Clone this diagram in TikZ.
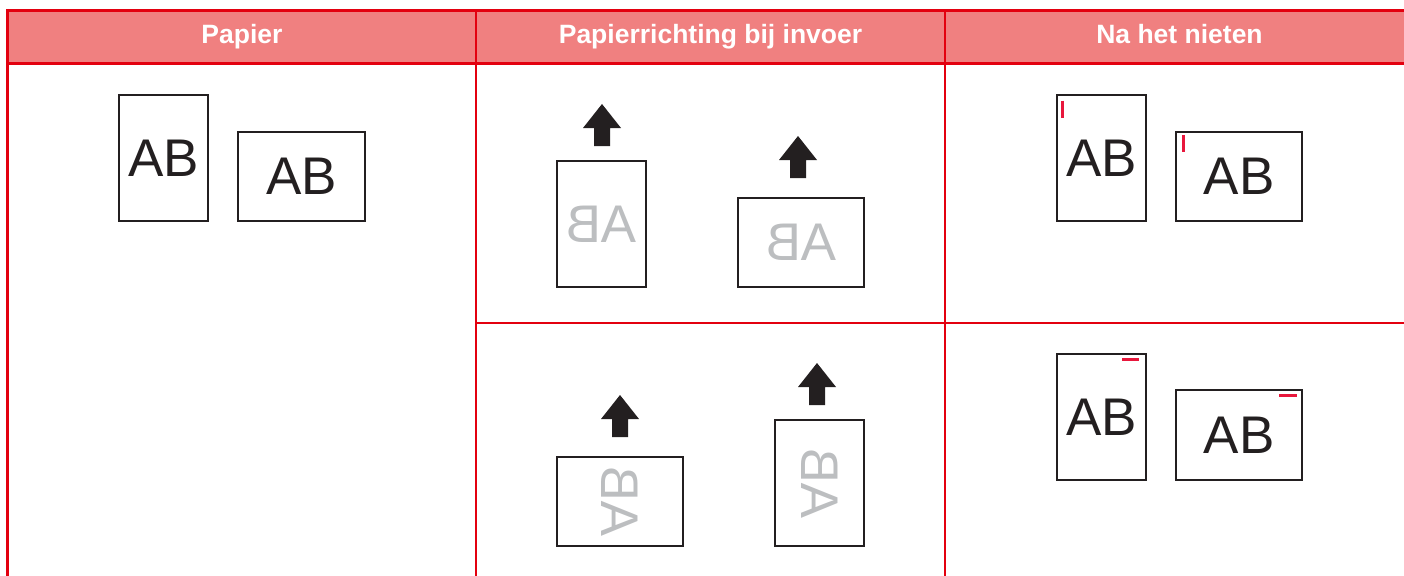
\documentclass[tikz,border=0pt]{standalone}
\usepackage{fontspec}
\setmainfont{Liberation Sans}
\usepackage{graphicx}
\definecolor{hdrfill}{HTML}{F08080}
\definecolor{tblred}{HTML}{E3000F}
\definecolor{ink}{HTML}{231F20}
\definecolor{ghost}{HTML}{BCBEC0}
\definecolor{staple}{HTML}{E8173C}
\tikzset{
  x=1pt, y=-1pt,
  paper/.style={draw=ink, line width=2pt, inner sep=0pt, text=ink,
    font=\fontsize{53}{60}\selectfont},
  portrait/.style={paper, minimum width=89.5pt, minimum height=126.5pt},
  landscape/.style={paper, minimum width=126.5pt, minimum height=89.5pt},
  ghosttext/.style={text=ghost},
  hdr/.style={text=white, font=\fontsize{26.5}{30}\selectfont\bfseries,
    anchor=base, inner sep=0pt},
  rule/.style={draw=tblred},
  staplemark/.style={draw=staple, line width=2.6pt},
  feedarrow/.pic={\fill[ink] (0,0) -- (19,24) -- (8,24) -- (8,42) -- (-8,42)
    -- (-8,24) -- (-19,24) -- cycle;}
}
\begin{document}
\begin{tikzpicture}
\useasboundingbox (0,0) rectangle (1404,575);
\clip (0,0) rectangle (1404,575);

% header band
\fill[hdrfill] (7.5,10.5) rectangle (1420,63.5);
\node[hdr] (h1) at (242,44) {Papier};
\node[hdr] (h2) at (710.5,44) {Papierrichting bij invoer};
\node[hdr] (h3) at (1179.5,44) {Na het nieten};

% table rules
\draw[rule, line width=3pt] (7.5,10.5) -- (1420,10.5);
\draw[rule, line width=3pt] (7.5,9) -- (7.5,590);
\draw[rule, line width=2.5pt] (7.5,63.5) -- (1420,63.5);
\draw[rule, line width=2pt] (476,10.5) -- (476,590);
\draw[rule, line width=2pt] (945,10.5) -- (945,590);
\draw[rule, line width=2.3pt] (476,323) -- (1420,323);

% column 1: paper
\node[portrait] (p1) at (163.5,158) {AB};
\node[landscape] (p2) at (301.5,176.5) {AB};

% column 2: feed direction
\node[portrait, ghosttext] (f1) at (601.5,224) {\reflectbox{AB}};
\node[landscape, ghosttext] (f2) at (801,242.5) {\reflectbox{AB}};
\node[landscape, ghosttext] (f3) at (620,501.5) {\reflectbox{\rotatebox{90}{AB}}};
\node[portrait, ghosttext] (f4) at (819.5,483) {\reflectbox{\rotatebox{90}{AB}}};
\pic at (602,104) {feedarrow};
\pic at (798,136) {feedarrow};
\pic at (620,395) {feedarrow};
\pic at (817,363) {feedarrow};

% column 3: after stapling
\node[portrait] (s1) at (1101.5,158) {AB};
\node[landscape] (s2) at (1239,176.5) {AB};
\node[portrait] (s3) at (1101.5,417) {AB};
\node[landscape] (s4) at (1239,435) {AB};
\draw[staplemark] ([shift={(7,7)}]s1.north west) -- ++(0,17);
\draw[staplemark] ([shift={(9,4)}]s2.north west) -- ++(0,17);
\draw[staplemark] ([shift={(-25,7)}]s3.north east) -- ++(17,0);
\draw[staplemark] ([shift={(-24,6)}]s4.north east) -- ++(18,0);
\end{tikzpicture}
\end{document}
